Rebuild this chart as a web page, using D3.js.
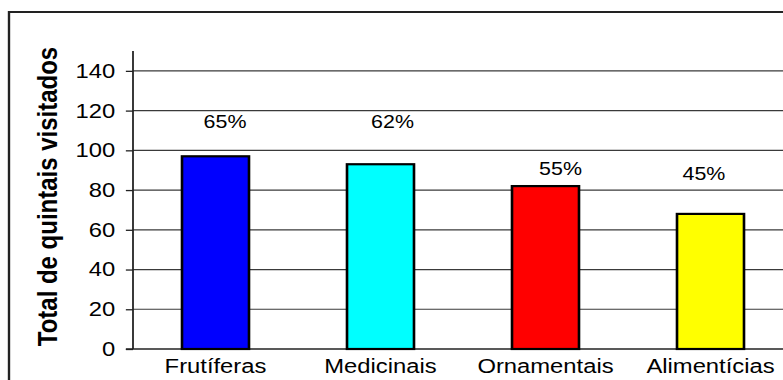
<!DOCTYPE html>
<html>
<head>
<meta charset="utf-8">
<script src="https://cdn.jsdelivr.net/npm/d3@7.9.0/dist/d3.min.js"></script>
<style>
  html, body { margin: 0; padding: 0; background: #fff; }
  svg { display: block; }
  text { font-family: "Liberation Sans", Arial, sans-serif; fill: #000; }
</style>
</head>
<body>
<svg id="chart"></svg>
<script>
// data
const categories = ['Frutíferas', 'Medicinais', 'Ornamentais', 'Alimentícias'];
const visited = [97, 93, 82, 68];
const percents = ['65%', '62%', '55%', '45%'];
const colors = ['#0000ff', '#00ffff', '#ff0000', '#ffff00'];
const yTicks = [0, 20, 40, 60, 80, 100, 120, 140];

// the source picture is stretched horizontally, so draw in a narrower
// viewBox and let the svg stretch it
const width = 783, height = 380;
const stretch = 1.19;
const W = width / stretch;

const svg = d3.select('#chart')
  .attr('width', width)
  .attr('height', height)
  .attr('viewBox', `0 0 ${W} ${height}`)
  .attr('preserveAspectRatio', 'none');

const plot = { left: 133 / stretch, top: 51, bottom: 349 };

let x = d3.scaleBand()
  .domain(categories)
  .range([plot.left, plot.left + 4 * 165 / stretch])
  .paddingInner(0.594)
  .paddingOuter(0.297);

let y = d3.scaleLinear().domain([0, 150]).range([plot.bottom, plot.top]);

// outer chart border (only top and left are inside the crop)
svg.append('rect')
  .attr('x', 9 / stretch).attr('y', 12)
  .attr('width', W + 20).attr('height', height + 20)
  .attr('fill', 'none')
  .attr('stroke', '#222')
  .attr('stroke-width', 2);

// gridlines
svg.append('g')
  .selectAll('line')
  .data(yTicks.filter(d => d > 0))
  .join('line')
  .attr('x1', plot.left).attr('x2', W + 5)
  .attr('y1', d => y(d)).attr('y2', d => y(d))
  .attr('stroke', '#3a3a3a')
  .attr('stroke-width', 1.2);

// y axis
let yAxis = d3.axisLeft(y).tickValues(yTicks).tickSize(6).tickPadding(9);
let gy = svg.append('g')
  .attr('transform', `translate(${plot.left},0)`)
  .call(yAxis);
gy.select('.domain').remove();
gy.selectAll('.tick line').attr('stroke', '#222').attr('stroke-width', 1.3);
gy.selectAll('.tick text').attr('font-size', 20).attr('fill', '#000')
  .style('font-family', '"Liberation Sans", Arial, sans-serif');
svg.append('line')
  .attr('x1', plot.left).attr('x2', plot.left)
  .attr('y1', plot.top).attr('y2', plot.bottom)
  .attr('stroke', '#222').attr('stroke-width', 1.5);

// baseline
svg.append('line')
  .attr('x1', plot.left - 6).attr('x2', W + 5)
  .attr('y1', y(0)).attr('y2', y(0))
  .attr('stroke', '#222').attr('stroke-width', 1.3);

// bars
svg.append('g')
  .selectAll('rect')
  .data(categories)
  .join('rect')
  .attr('x', d => x(d))
  .attr('y', (d, i) => y(visited[i]))
  .attr('width', x.bandwidth())
  .attr('height', (d, i) => y(0) - y(visited[i]))
  .attr('fill', (d, i) => colors[i])
  .attr('stroke', '#000')
  .attr('stroke-width', 2.2);

// category labels
svg.append('g')
  .selectAll('text')
  .data(categories)
  .join('text')
  .attr('x', d => x(d) + x.bandwidth() / 2)
  .attr('y', y(0) + 24)
  .attr('text-anchor', 'middle')
  .attr('font-size', 20)
  .text(d => d);

// percentage labels were placed by hand in the original
const labelNudge = [[9.5, 128], [12, 128], [15, 175], [-6.5, 180]];
svg.append('g')
  .selectAll('text')
  .data(percents)
  .join('text')
  .attr('x', (d, i) => x(categories[i]) + x.bandwidth() / 2 + labelNudge[i][0] / stretch)
  .attr('y', (d, i) => labelNudge[i][1])
  .attr('text-anchor', 'middle')
  .attr('font-size', 18)
  .text(d => d);

// y title
svg.append('text')
  .attr('transform', `translate(${57 / stretch},${196.5}) rotate(-90)`)
  .attr('text-anchor', 'middle')
  .attr('font-size', 24)
  .attr('font-weight', 'bold')
  .text('Total de quintais visitados');
</script>
</body>
</html>
